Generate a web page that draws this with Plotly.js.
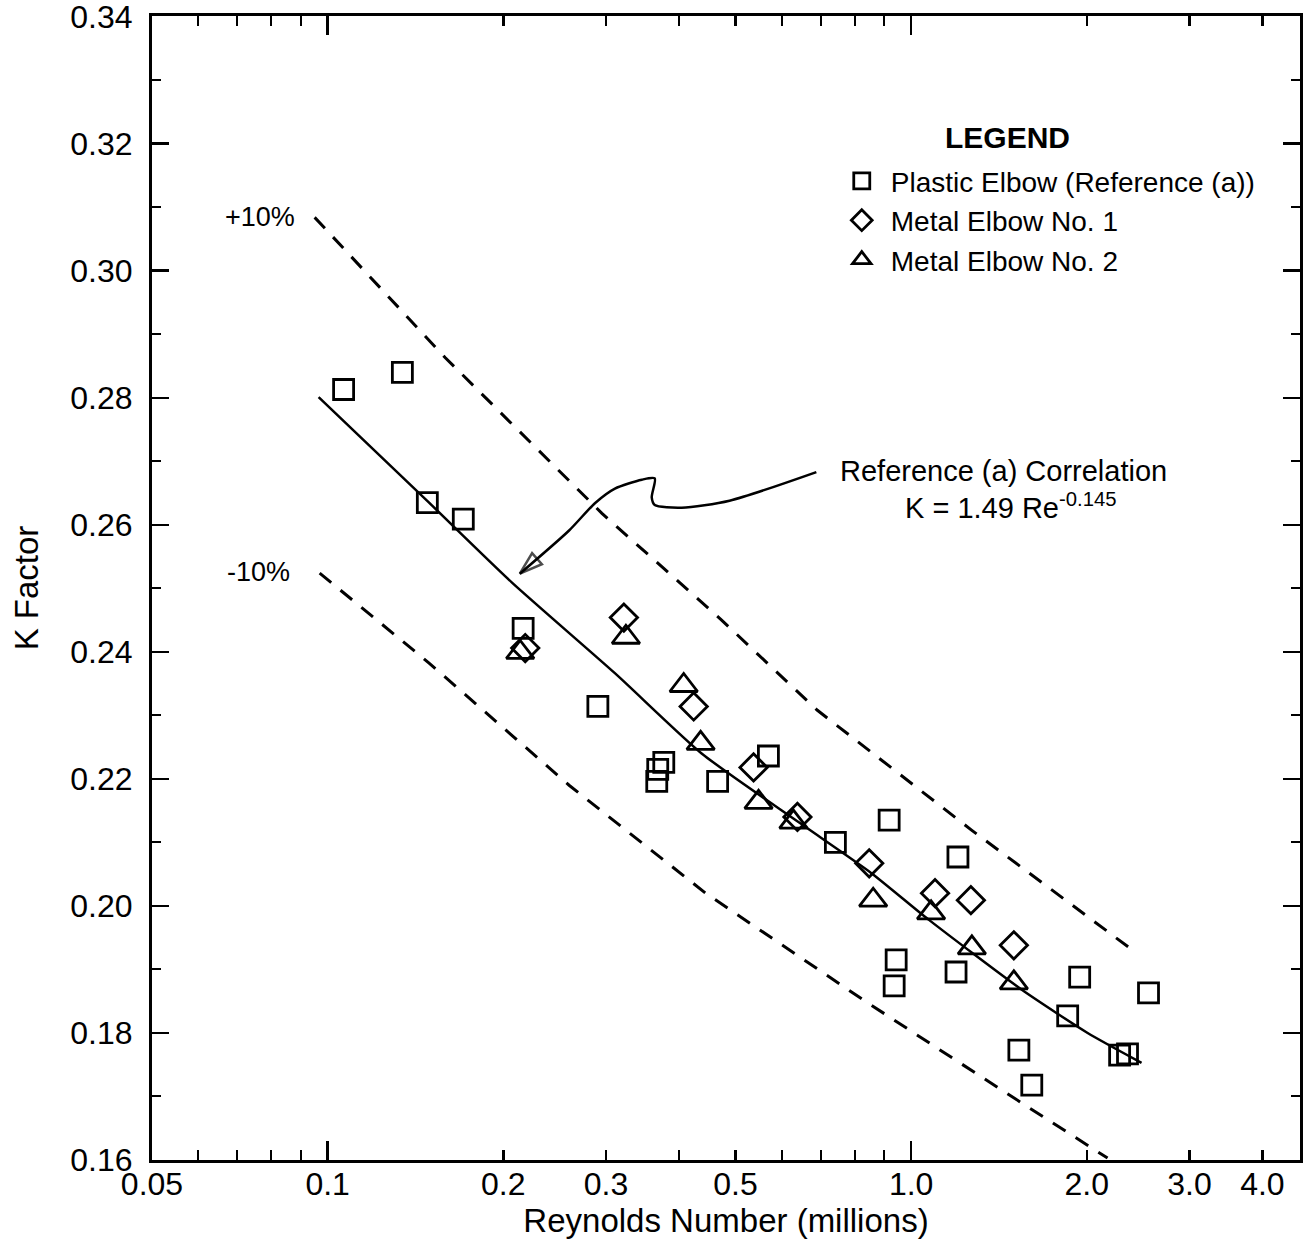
<!DOCTYPE html>
<html>
<head>
<meta charset="utf-8">
<script src="https://cdn.plot.ly/plotly-3.0.1.min.js"></script>
<style>
  html, body { margin: 0; padding: 0; background: #ffffff; }
  #chart { width: 1306px; height: 1243px; }
</style>
</head>
<body>
<div id="chart"></div>
<script>
// ---- Data ----
// Reynolds number (millions) and K factor
const plasticRe = [0.1065, 0.1343, 0.1482, 0.1708, 0.2163, 0.2905, 0.3665, 0.3679, 0.3768, 0.466, 0.5694, 0.7417, 0.917, 0.9427, 0.9353, 1.203, 1.194, 1.530, 1.610, 1.855, 1.945, 2.277, 2.349, 2.552];
const plasticK  = [0.2813, 0.2840, 0.2635, 0.2609, 0.2437, 0.2314, 0.2196, 0.2215, 0.2226, 0.2196, 0.2236, 0.2100, 0.2135, 0.1915, 0.1874, 0.2077, 0.1896, 0.1773, 0.1718, 0.1827, 0.1888, 0.1765, 0.1767, 0.1863];

const metal1Re = [0.2181, 0.3219, 0.4240, 0.5370, 0.6385, 0.8476, 1.099, 1.266, 1.500];
const metal1K  = [0.2406, 0.2454, 0.2314, 0.2218, 0.2140, 0.2067, 0.2020, 0.2009, 0.1938];

const metal2Re = [0.2138, 0.3245, 0.4076, 0.4358, 0.5477, 0.6285, 0.8610, 1.082, 1.271, 1.500];
const metal2K  = [0.2399, 0.2423, 0.2347, 0.2256, 0.2163, 0.2132, 0.2009, 0.1989, 0.1934, 0.1879];

// Reference (a) correlation curve
const corrRe = [0.0965, 0.148, 0.207, 0.311, 0.4375, 0.641, 0.854, 1.073, 1.548, 2.007, 2.483];
const corrK  = [0.2801, 0.2638, 0.2509, 0.2366, 0.2240, 0.2132, 0.2052, 0.1978, 0.1868, 0.1800, 0.1753];

// +10% and -10% bands
const plusRe  = [0.095, 0.1591, 0.2952, 0.4734, 0.6908, 1.271, 2.424];
const plusK   = [0.3084, 0.2863, 0.2618, 0.2450, 0.2308, 0.2119, 0.1927];
const minusRe = [0.0969, 0.1494, 0.2593, 0.4445, 0.8279, 1.43, 2.171];
const minusK  = [0.2524, 0.2382, 0.2190, 0.2020, 0.1852, 0.1710, 0.1603];

// Callout line from the correlation label to the curve (ends at the arrow head)
const calloutRe = [0.688, 0.4885, 0.4044, 0.3636, 0.3593, 0.3636, 0.3455, 0.3107, 0.2871, 0.2593, 0.2135];
const calloutK  = [0.2683, 0.2638, 0.2627, 0.2631, 0.2643, 0.2673, 0.2671, 0.2657, 0.2634, 0.2591, 0.2523];

// Tick labels
const xTickVals = [0.05, 0.1, 0.2, 0.3, 0.5, 1, 2, 3, 4];
const xTickText = ['0.05', '0.1', '0.2', '0.3', '0.5', '1.0', '2.0', '3.0', '4.0'];
const xMinorVals = [0.06, 0.07, 0.08, 0.09, 0.4, 0.6, 0.7, 0.8, 0.9];
const xLongVals = [0.1, 1];
const yTickVals = [0.16, 0.18, 0.20, 0.22, 0.24, 0.26, 0.28, 0.30, 0.32, 0.34];
const yTickText = ['0.16', '0.18', '0.20', '0.22', '0.24', '0.26', '0.28', '0.30', '0.32', '0.34'];

const FONT = 'Liberation Sans, Arial, Helvetica, sans-serif';
const BLACK = '#000000';

const calloutSizes = calloutRe.map((v, i) => (i === calloutRe.length - 1 ? 24 : 0));

const traces = [
  { x: plusRe, y: plusK, mode: 'lines', line: { color: BLACK, width: 3, dash: '15px,12px' }, showlegend: false, hoverinfo: 'skip' },
  { x: minusRe, y: minusK, mode: 'lines', line: { color: BLACK, width: 3, dash: '15px,12px' }, showlegend: false, hoverinfo: 'skip' },
  { x: corrRe, y: corrK, mode: 'lines', line: { color: BLACK, width: 2.5, shape: 'spline', smoothing: 0.6 }, showlegend: false, hoverinfo: 'skip' },
  { x: calloutRe, y: calloutK, mode: 'lines+markers', xaxis: 'x2',
    line: { color: BLACK, width: 2.5, shape: 'spline', smoothing: 0.7 },
    marker: { symbol: 'arrow-open', size: calloutSizes, angleref: 'previous', color: BLACK, line: { width: 2.5, color: BLACK } },
    showlegend: false, hoverinfo: 'skip' },
  { x: plasticRe, y: plasticK, mode: 'markers', name: 'Plastic Elbow (Reference (a))',
    marker: { symbol: 'square-open', size: 20, color: BLACK, line: { width: 2.8, color: BLACK } } },
  { x: metal1Re, y: metal1K, mode: 'markers', name: 'Metal Elbow No. 1',
    marker: { symbol: 'diamond-open', size: 21, color: BLACK, line: { width: 2.8, color: BLACK } } },
  { x: metal2Re, y: metal2K, mode: 'markers', name: 'Metal Elbow No. 2',
    marker: { symbol: 'triangle-up-open', size: 24, color: BLACK, line: { width: 2.8, color: BLACK } } }
];

const xRange = [Math.log10(0.05), Math.log10(4.64)];

const layout = {
  width: 1306,
  height: 1243,
  margin: { l: 152, r: 6, t: 16, b: 83 },
  paper_bgcolor: '#ffffff',
  plot_bgcolor: '#ffffff',
  font: { family: FONT, color: BLACK, size: 27 },
  showlegend: true,
  xaxis: {
    type: 'log',
    range: xRange,
    tickmode: 'array',
    tickvals: xTickVals,
    ticktext: xTickText,
    ticks: 'inside',
    ticklen: 10,
    tickwidth: 2.5,
    tickcolor: BLACK,
    showline: true,
    linewidth: 3,
    linecolor: BLACK,
    mirror: 'ticks',
    showgrid: false,
    zeroline: false,
    tickfont: { family: FONT, size: 32, color: BLACK },
    ticklabelstandoff: -6,
    ticklabeloverflow: 'allow',
    minor: { tickmode: 'array', tickvals: xMinorVals, ticks: 'inside', ticklen: 10, tickwidth: 2, tickcolor: BLACK, showgrid: false },
    title: { text: 'Reynolds Number (millions)', font: { family: FONT, size: 33, color: BLACK }, standoff: 0 },
    automargin: false
  },
  xaxis2: {
    type: 'log',
    range: xRange,
    overlaying: 'x',
    anchor: 'y',
    side: 'bottom',
    tickmode: 'array',
    tickvals: xLongVals,
    showticklabels: false,
    ticks: 'inside',
    ticklen: 19,
    tickwidth: 2.5,
    tickcolor: BLACK,
    showline: false,
    mirror: 'ticks',
    showgrid: false,
    zeroline: false
  },
  yaxis: {
    range: [0.16, 0.3401],
    tickmode: 'array',
    tickvals: yTickVals,
    ticktext: yTickText,
    ticks: 'inside',
    ticklen: 17,
    tickwidth: 2.5,
    tickcolor: BLACK,
    showline: true,
    linewidth: 3,
    linecolor: BLACK,
    mirror: 'ticks',
    showgrid: false,
    zeroline: false,
    tickfont: { family: FONT, size: 32, color: BLACK },
    ticklabelstandoff: 10,
    ticklabeloverflow: 'allow',
    minor: { dtick: 0.01, ticks: 'inside', ticklen: 9, tickwidth: 2, tickcolor: BLACK, showgrid: false },
    title: { text: 'K Factor', font: { family: FONT, size: 33, color: BLACK }, standoff: 22 },
    automargin: false
  },
  legend: {
    x: 0.593,
    xanchor: 'left',
    y: 0.8775,
    yanchor: 'top',
    bgcolor: 'rgba(0,0,0,0)',
    borderwidth: 0,
    font: { family: FONT, size: 28, color: BLACK },
    itemwidth: 48,
    tracegroupgap: 0
  },
  annotations: [
    { xref: 'paper', yref: 'paper', x: 0.7456, y: 0.8942, text: '<b>LEGEND</b>', showarrow: false,
      font: { family: FONT, size: 30, color: BLACK }, xanchor: 'center', yanchor: 'middle' },
    { xref: 'x', yref: 'y', x: Math.log10(0.0766), y: 0.3085, text: '+10%', showarrow: false,
      font: { family: FONT, size: 27, color: BLACK }, xanchor: 'center', yanchor: 'middle' },
    { xref: 'x', yref: 'y', x: Math.log10(0.0760), y: 0.2525, text: '-10%', showarrow: false,
      font: { family: FONT, size: 27, color: BLACK }, xanchor: 'center', yanchor: 'middle' },
    { xref: 'x', yref: 'y', x: Math.log10(1.438), y: 0.2685, text: 'Reference (a) Correlation', showarrow: false,
      font: { family: FONT, size: 29, color: BLACK }, xanchor: 'center', yanchor: 'middle' },
    { xref: 'x', yref: 'y', x: Math.log10(1.478), y: 0.2630, text: 'K = 1.49 Re<sup>-0.145</sup>', showarrow: false,
      font: { family: FONT, size: 29, color: BLACK }, xanchor: 'center', yanchor: 'middle' }
  ]
};

Plotly.newPlot('chart', traces, layout, { displayModeBar: false, staticPlot: true });
</script>
</body>
</html>
